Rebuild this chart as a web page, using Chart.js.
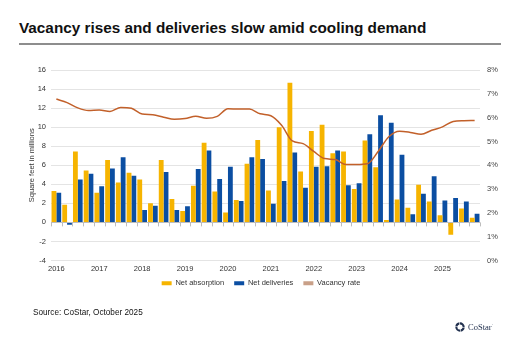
<!DOCTYPE html>
<html>
<head>
<meta charset="utf-8">
<script src="https://cdn.jsdelivr.net/npm/chart.js@4.4.1/dist/chart.umd.min.js"></script>
<style>
  html, body { margin: 0; padding: 0; background: #fff; }
  body { width: 520px; height: 346px; position: relative; overflow: hidden; font-family: "Liberation Sans", Arial, sans-serif; }
  #title { position: absolute; left: 19px; top: 19px; font-size: 15.3px; font-weight: bold; color: #111; white-space: nowrap; }
  #rule { position: absolute; left: 19px; top: 43px; width: 482px; height: 2px; background: #8d8d8d; }
  #wrap { position: absolute; left: 0; top: 0; width: 520px; height: 346px; }
  #source { position: absolute; left: 33px; top: 308px; font-size: 8.2px; color: #111; white-space: nowrap; }
  #logo { position: absolute; left: 455px; top: 321px; height: 12px; display: flex; align-items: center; }
  #logo span { font-family: "Liberation Serif", "DejaVu Serif", serif; font-size: 8.5px; color: #22314f; margin-left: 3px; }
</style>
</head>
<body>
<div id="title">Vacancy rises and deliveries slow amid cooling demand</div>
<div id="rule"></div>
<div id="wrap"><canvas id="chart" width="520" height="346"></canvas></div>
<div id="source">Source: CoStar, October 2025</div>
<div id="logo">
  <svg width="10" height="10" viewBox="0 0 10 10">
    <g fill="#22314f">
      <path d="M5 0.3 A4.7 4.7 0 0 1 9.7 5 L7.6 5 A2.6 2.6 0 0 0 5 2.4 Z"/>
      <path d="M9.7 5.6 A4.7 4.7 0 0 1 5.6 9.7 L5.6 7.6 A2.6 2.6 0 0 0 7.6 5.6 Z"/>
      <path d="M5 9.7 A4.7 4.7 0 0 1 0.3 5 L2.4 5 A2.6 2.6 0 0 0 5 7.6 Z"/>
      <path d="M0.3 4.4 A4.7 4.7 0 0 1 4.4 0.3 L4.4 2.4 A2.6 2.6 0 0 0 2.4 4.4 Z"/>
    </g>
  </svg>
  <span>CoStar<sup style="font-size:4px">·</sup></span>
</div>
<script>
// Quarterly categories, 2016 Q1 through 2025 Q4
const years = [2016, 2017, 2018, 2019, 2020, 2021, 2022, 2023, 2024, 2025];
const quarters = years.flatMap(y => ['Q1', 'Q2', 'Q3', 'Q4'].map(q => y + ' ' + q));

// Net absorption, million sq ft
const netAbsorption = [
  3.3, 1.85, 7.45, 5.45,
  3.1, 6.55, 4.2, 5.2,
  4.5, 2.0, 6.55, 2.45,
  1.2, 3.85, 8.35, 3.25,
  1.05, 2.35, 6.15, 8.65,
  3.35, 10.0, 14.65, 5.35,
  9.6, 10.25, 7.25, 7.45,
  3.5, 8.6, 5.8, 0.25,
  2.4, 1.55, 3.95, 2.2,
  0.75, -1.3, 1.45, 0.5
];

// Net deliveries, million sq ft
const netDeliveries = [
  3.1, -0.25, 4.5, 5.1,
  3.8, 5.65, 6.85, 4.9,
  1.3, 1.75, 5.3, 1.3,
  1.7, 5.6, 7.55, 4.55,
  5.85, 2.25, 6.85, 6.65,
  1.95, 4.35, 7.35, 3.65,
  5.85, 5.9, 7.55, 3.9,
  4.1, 9.25, 11.25, 10.45,
  7.1, 0.85, 3.0, 4.85,
  2.3, 2.55, 2.2, 0.9
];

// Vacancy rate, percent
const vacancyRate = [
  6.78, 6.63, 6.41, 6.30,
  6.32, 6.26, 6.43, 6.39,
  6.15, 6.12, 6.02, 5.93,
  5.96, 6.06, 5.97, 6.05,
  6.37, 6.36, 6.36, 6.16,
  6.08, 5.68, 5.02, 4.91,
  4.58, 4.28, 4.24, 4.03,
  4.03, 4.06, 4.58, 5.2,
  5.43, 5.38, 5.3, 5.47,
  5.61, 5.84, 5.87, 5.88
];

const leftTicks = { min: -4, max: 16, step: 2 };
const rightTicks = { min: 0, max: 8, step: 1 };

const YELLOW = '#F6B400';
const BLUE = '#0B4EA2';
const RUST = '#C2602A';
const TAN = '#C9A088';
const tickFont = { family: '"Liberation Sans", Arial, sans-serif', size: 7.5 };

// Small tick marks along the zero line at each category boundary
const zeroTicks = {
  id: 'zeroTicks',
  beforeDatasetsDraw(chart) {
    const { ctx, chartArea, scales } = chart;
    const y0 = scales.y.getPixelForValue(0);
    const n = quarters.length;
    const w = (chartArea.right - chartArea.left) / n;
    ctx.save();
    ctx.strokeStyle = '#bdbdbd';
    ctx.lineWidth = 1;
    ctx.beginPath();
    for (let i = 0; i <= n; i++) {
      const x = Math.round(chartArea.left + i * w) + 0.5;
      ctx.moveTo(x, y0);
      ctx.lineTo(x, y0 + 4);
    }
    ctx.stroke();
    ctx.restore();
  }
};

// Pull the legend row a little closer to the axis labels
const legendNudge = {
  id: 'legendNudge',
  afterLayout(chart) {
    const lg = chart.legend;
    if (!lg) return;
    lg.top -= 8;
    lg.bottom -= 8;
    if (lg.adjustHitBoxes) lg.adjustHitBoxes();
  }
};

new Chart(document.getElementById('chart'), {
  type: 'bar',
  data: {
    labels: quarters,
    datasets: [
      {
        label: 'Net absorption',
        data: netAbsorption,
        backgroundColor: YELLOW,
        yAxisID: 'y',
        order: 2,
        categoryPercentage: 0.9,
        barPercentage: 1.0
      },
      {
        label: 'Net deliveries',
        data: netDeliveries,
        backgroundColor: BLUE,
        yAxisID: 'y',
        order: 2,
        categoryPercentage: 0.9,
        barPercentage: 1.0
      },
      {
        type: 'line',
        label: 'Vacancy rate',
        data: vacancyRate,
        borderColor: RUST,
        backgroundColor: TAN,
        borderWidth: 1.5,
        pointRadius: 0,
        tension: 0.4,
        cubicInterpolationMode: 'monotone',
        yAxisID: 'y1',
        order: 1
      }
    ]
  },
  options: {
    responsive: false,
    animation: false,
    layout: { padding: { left: 22, right: 20, top: 70, bottom: 41 } },
    plugins: {
      legend: {
        position: 'bottom',
        labels: {
          boxWidth: 10,
          boxHeight: 4,
          padding: 10,
          color: '#333',
          font: tickFont,
          sort: (a, b) => a.datasetIndex - b.datasetIndex,
          generateLabels(chart) {
            const items = Chart.defaults.plugins.legend.labels.generateLabels(chart);
            items.forEach(it => {
              it.lineWidth = 0;
              it.strokeStyle = 'rgba(0,0,0,0)';
            });
            return items;
          }
        }
      },
      tooltip: { enabled: false }
    },
    scales: {
      x: {
        grid: { display: false, drawTicks: false },
        border: { display: false },
        ticks: {
          autoSkip: false,
          maxRotation: 0,
          padding: 4,
          color: '#333',
          font: tickFont,
          callback(value, index) {
            const q = quarters[index];
            return q.endsWith('Q1') ? q.slice(0, 4) : '';
          }
        }
      },
      y: {
        position: 'left',
        min: leftTicks.min,
        max: leftTicks.max,
        afterFit(scale) { scale.width = 29; },
        grid: {
          drawTicks: false,
          color: ctx => (ctx.tick && ctx.tick.value === 0 ? '#bdbdbd' : '#e4e4e4'),
          lineWidth: 1
        },
        border: { display: false },
        ticks: { stepSize: leftTicks.step, padding: 5, color: '#333', font: tickFont },
        title: {
          display: true,
          text: 'Square feet in millions',
          color: '#333',
          font: tickFont,
          padding: { top: 5, bottom: 0 }
        }
      },
      y1: {
        position: 'right',
        min: rightTicks.min,
        max: rightTicks.max,
        afterFit(scale) { scale.width = 20; },
        grid: { drawOnChartArea: false, drawTicks: false },
        border: { display: false },
        ticks: {
          stepSize: rightTicks.step,
          padding: 7,
          color: '#444',
          font: tickFont,
          callback: v => v + '%'
        }
      }
    }
  },
  plugins: [zeroTicks, legendNudge]
});
</script>
</body>
</html>
